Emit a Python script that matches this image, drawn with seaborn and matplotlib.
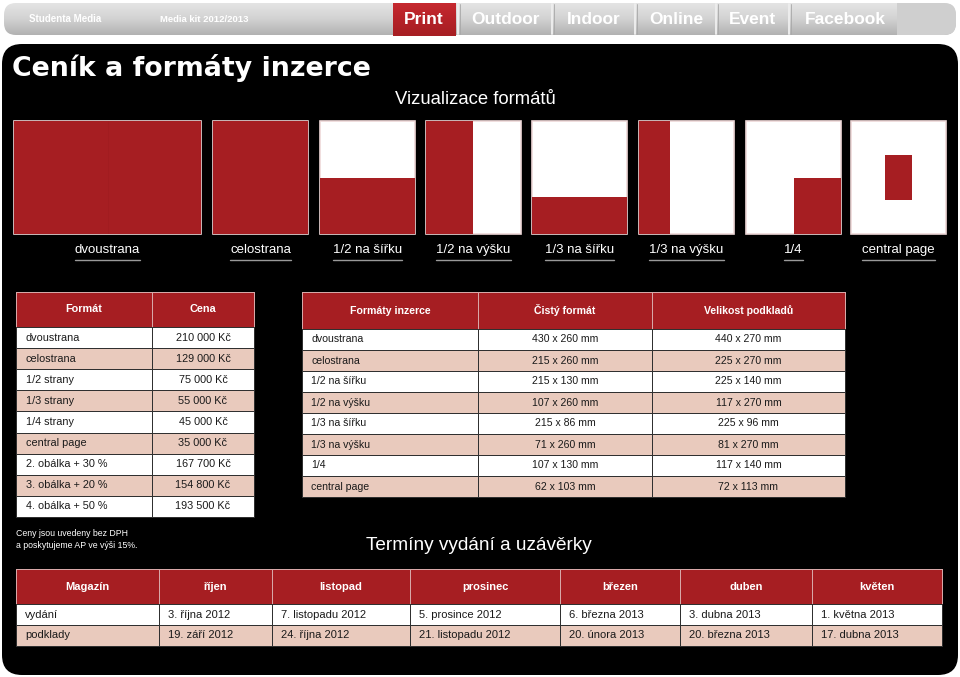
import numpy as np
import matplotlib.pyplot as plt
import seaborn as sns
from matplotlib.colors import ListedColormap, LinearSegmentedColormap
from matplotlib.patches import FancyBboxPatch, Rectangle

# ---- data ----
nav_tabs = ['Print', 'Outdoor', 'Indoor', 'Online', 'Event', 'Facebook']
brand = 'Studenta Media'
kit = 'Media kit 2012/2013'

format_names = ['dvoustrana', 'celostrana', '1/2 na šířku', '1/2 na výšku',
                '1/3 na šířku', '1/3 na výšku', '1/4', 'central page']
page_w = [430, 215, 215, 215, 215, 215, 215, 215]
page_h = 260
net_w = [430, 215, 215, 107, 215, 71, 107, 62]
net_h = [260, 260, 130, 260, 86, 260, 130, 103]
bleed_w = [440, 225, 225, 117, 225, 81, 117, 72]
bleed_h = [270, 270, 140, 270, 96, 270, 140, 113]
ad_anchor = ['left', 'left', 'bottom', 'left', 'bottom', 'left', 'bottom right', 'center']

price_names = ['dvoustrana', 'celostrana', '1/2 strany', '1/3 strany', '1/4 strany',
               'central page', '2. obálka + 30 %', '3. obálka + 20 %', '4. obálka + 50 %']
prices = [210000, 129000, 75000, 55000, 45000, 35000, 167700, 154800, 193500]

months = ['říjen', 'listopad', 'prosinec', 'březen', 'duben', 'květen']
release_dates = ['3. října 2012', '7. listopadu 2012', '5. prosince 2012',
                 '6. března 2013', '3. dubna 2013', '1. května 2013']
deadline_dates = ['19. září 2012', '24. října 2012', '21. listopadu 2012',
                  '20. února 2013', '20. března 2013', '17. dubna 2013']

RED = '#a61e22'
PINK = '#e9cabd'
W, H = 960, 677

sns.set_theme(style='white')
plt.rcParams['font.family'] = ['Liberation Sans', 'DejaVu Sans']

fig = plt.figure(figsize=(W / 100, H / 100), dpi=100)
fig.patch.set_facecolor('white')
ax = fig.add_axes([0, 0, 1, 1])
ax.axis('off')


def grad_fill(patch, colors, x0, x1, y0, y1, z=1):
    ax.add_patch(patch)
    cm = LinearSegmentedColormap.from_list('g', colors)
    im = ax.imshow(np.linspace(0, 1, 64).reshape(-1, 1), extent=(x0, x1, y1, y0),
                   cmap=cm, aspect='auto', zorder=z, interpolation='bilinear')
    im.set_clip_path(patch)


# top navigation bar
bar = FancyBboxPatch((4, 3), 952, 32, boxstyle='round,pad=0,rounding_size=12',
                     fc='none', ec='none')
grad_fill(bar, ['#e4e4e4', '#d2d2d2', '#b2b2b2'], 4, 956, 3, 35)
ax.add_patch(Rectangle((897, 3), 60, 32, fc='#cfcfcf', ec='none', zorder=1.5,
                       clip_path=bar))
red_tab = Rectangle((393, 3), 63, 33, fc='none', ec='none', zorder=2)
grad_fill(red_tab, ['#c62a30', '#b52228', '#a61e22'], 393, 456, 3, 36, z=2)
for sx in [458, 552, 635, 716, 789]:
    ax.plot([sx, sx], [4, 34], color='#ededed', lw=1.4, zorder=3)
    ax.plot([sx + 1.5, sx + 1.5], [4, 34], color='#a8a8a8', lw=0.6, zorder=3)

ax.text(29, 19, brand, color='white', fontsize=7, fontweight='bold', va='center', zorder=4)
ax.text(160, 19, kit, color='white', fontsize=6.8, fontweight='bold', va='center', zorder=4)
tab_centers = [424, 505, 594, 676, 753, 845]
for cx, tab in zip(tab_centers, nav_tabs):
    ax.text(cx, 19, tab, color='white', fontsize=12.5, fontweight='bold',
            ha='center', va='center', zorder=4)

# black panel
ax.add_patch(FancyBboxPatch((2, 44), 956, 631, boxstyle='round,pad=0,rounding_size=20',
                            fc='black', ec='none', zorder=1))
ax.text(12, 68, 'Ceník a formáty inzerce', color='white', fontsize=19.3,
        fontweight='heavy', family=['DejaVu Sans'], va='center', zorder=4)
ax.text(395, 99, 'Vizualizace formátů', color='white', fontsize=13.3,
        va='center', zorder=4)

# format thumbnails
thumb_left = [14, 213, 320, 426, 532, 639, 746, 851]
thumb_w = [187, 95, 95, 95, 95, 95, 95, 95]
thumb_top, thumb_h = 121, 113
labels = []
for i, name in enumerate(format_names):
    x, w = thumb_left[i], thumb_w[i]
    tax = fig.add_axes([x / W, 1 - (thumb_top + thumb_h) / H, w / W, thumb_h / H])
    tax.axis('off')
    pw = page_w[i]
    tax.set_xlim(0, pw)
    tax.set_ylim(0, page_h)
    tax.add_patch(Rectangle((0, 0), pw, page_h, fc='white', ec='#eed8d8', lw=1.2,
                            clip_on=False))
    aw, ah = net_w[i], net_h[i]
    if ad_anchor[i] == 'center':
        x0, y0 = (pw - aw) / 2, (page_h - ah) / 2
    elif ad_anchor[i] == 'bottom right':
        x0, y0 = pw - aw, 0
    else:
        x0, y0 = 0, 0
    tax.add_patch(Rectangle((x0, y0), aw, ah, fc=RED, ec='none'))
    if pw > 215:
        tax.plot([pw / 2, pw / 2], [0, page_h], color='#9e1c20', lw=0.4)
    t = ax.text(x + w / 2, 250, name, color='white', fontsize=9.5,
                ha='center', va='center', zorder=4)
    labels.append(t)


def draw_table(col_edges, top, head_h, row_h, headers, rows, align, pad, fs):
    n = len(rows)
    xe = np.array(col_edges)
    ye = top + head_h + np.arange(n + 1) * row_h
    ax.pcolormesh(xe, [top, top + head_h], np.zeros((1, len(xe) - 1)),
                  cmap=ListedColormap([RED]), edgecolors='#d8a8a8', linewidth=0.4, zorder=2)
    shade = np.array([[k % 2] * (len(xe) - 1) for k in range(n)])
    ax.pcolormesh(xe, ye, shade, cmap=ListedColormap(['white', PINK]),
                  vmin=0, vmax=1, edgecolors='#303030', linewidth=0.45, zorder=2)
    for j, h in enumerate(headers):
        ax.text((xe[j] + xe[j + 1]) / 2, top + head_h / 2, h, color='white',
                fontsize=fs, fontweight='bold', ha='center', va='center', zorder=4)
    for r, row in enumerate(rows):
        yc = (ye[r] + ye[r + 1]) / 2
        for j, val in enumerate(row):
            if align[j] == 'left':
                ax.text(xe[j] + pad, yc, val, color='#1a1a1a', fontsize=fs,
                        ha='left', va='center', zorder=4)
            else:
                ax.text((xe[j] + xe[j + 1]) / 2, yc, val, color='#1a1a1a', fontsize=fs,
                        ha='center', va='center', zorder=4)


# price table
price_rows = [[n, f'{p:,}'.replace(',', ' ') + ' Kč'] for n, p in zip(price_names, prices)]
draw_table([16, 152, 254], 292, 35, 21.1, ['Formát', 'Cena'], price_rows,
           ['left', 'center'], 10, 7.8)

# size table
size_rows = [[n, f'{a} x {b} mm', f'{c} x {d} mm']
             for n, a, b, c, d in zip(format_names, net_w, net_h, bleed_w, bleed_h)]
draw_table([302, 478, 652, 845], 292, 37, 21, ['Formáty inzerce', 'Čistý formát',
           'Velikost podkladů'], size_rows, ['left', 'center', 'center'], 9, 7.6)

ax.text(16, 533, 'Ceny jsou uvedeny bez DPH', color='white', fontsize=6.3,
        va='center', zorder=4)
ax.text(16, 545, 'a poskytujeme AP ve výši 15%.', color='white', fontsize=6.3,
        va='center', zorder=4)
ax.text(366, 545, 'Termíny vydání a uzávěrky', color='white', fontsize=13.7,
        va='center', zorder=4)

# schedule table
sched_rows = [['vydání'] + release_dates, ['podklady'] + deadline_dates]
draw_table([16, 159, 272, 410, 560, 680, 812, 942], 569, 35, 21,
           ['Magazín'] + months, sched_rows, ['left'] * 7, 9, 8)

ax.set_xlim(0, W)
ax.set_ylim(H, 0)

# underline the thumbnail labels
fig.canvas.draw()
rend = fig.canvas.get_renderer()
inv = ax.transData.inverted()
for t in labels:
    bb = t.get_window_extent(rend)
    (x0, _), (x1, _) = inv.transform([(bb.x0, bb.y0), (bb.x1, bb.y1)])
    ax.plot([x0, x1], [260, 260], color='#9a9a9a', lw=1, zorder=4)

fig.savefig('out.png', dpi=100)
